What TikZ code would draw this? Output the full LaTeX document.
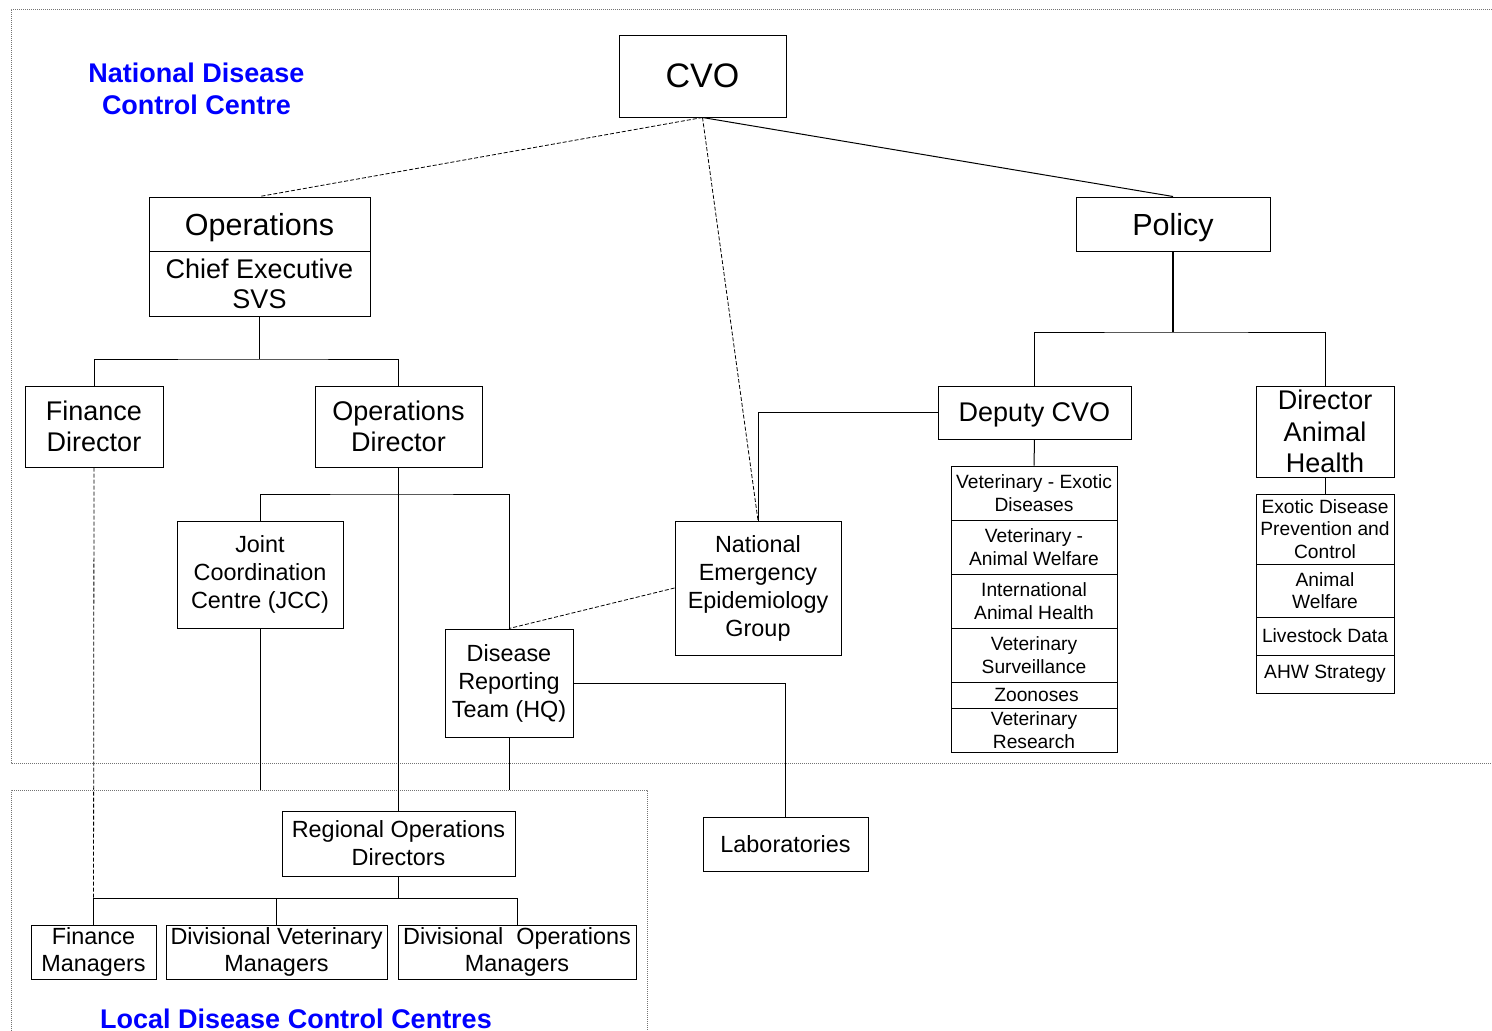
\documentclass[tikz,border=0pt]{standalone}
\usepackage{fontspec}
\setmainfont{Liberation Sans}
\newcommand\fsXL{\fontsize{34}{40}\selectfont}
\newcommand\fsL{\fontsize{30.5}{36}\selectfont}
\newcommand\fsM{\fontsize{27}{31.5}\selectfont}
\newcommand\fsMc{\fontsize{27}{30}\selectfont}
\newcommand\fsS{\fontsize{23.4}{28}\selectfont}
\newcommand\fsSb{\fontsize{23.4}{27}\selectfont}
\newcommand\fsXS{\fontsize{19.2}{22.5}\selectfont}
\newcommand\fsT{\fontsize{27}{32}\selectfont\bfseries}
\begin{document}
\begin{tikzpicture}[x=1pt,y=-1pt,
  box/.style={draw=black, line width=1pt, inner sep=0pt, align=center, fill=white},
  conn/.style={line width=1pt},
  stem/.style={line width=1.8pt},
  dsh/.style={line width=0.8pt, dash pattern=on 4pt off 2pt},
  border/.style={line width=1pt, draw=black!55, dash pattern=on 1pt off 1pt},
  title/.style={text=blue, align=center, inner sep=0pt, font=\fsT}]
\useasboundingbox (0,0) rectangle (1492,1031);
% region borders
\draw[border] (1492,9) -- (11,9) -- (11,763) -- (1492,763);
\draw[border] (11,1031) -- (11,790) -- (647,790) -- (647,1031);
\coordinate (ltop) at (11,790);
% titles
\node[title] (ndcc) at (196.5,89) {National Disease\\Control Centre};
\node[title, anchor=base] (ldcc) at (296,1028) {Local Disease Control Centres};
% top level
\node[box, minimum width=167, minimum height=82, font=\fsXL] (cvo) at (702.5,76) {CVO};
\node[box, minimum width=221, minimum height=54, font=\fsL, text depth=0pt] (opsT) at (259.5,224) {Operations};
\node[box, minimum width=221, minimum height=65, font=\fsMc] (opsB) at (259.5,283.5) {Chief Executive\\SVS};
\node[box, minimum width=194, minimum height=54, font=\fsL, text depth=0pt] (policy) at (1173,224) {Policy};
% directors
\node[box, minimum width=138, minimum height=81, font=\fsM] (fd) at (94,426.5) {Finance\\Director};
\node[box, minimum width=167, minimum height=81, font=\fsM] (od) at (398.5,426.5) {Operations\\Director};
\node[box, minimum width=193, minimum height=53, font=\fsM, text depth=0pt] (dcvo) at (1034.5,412.5) {Deputy CVO};
\node[box, minimum width=138, minimum height=91, font=\fsM] (dah) at (1325,431.5) {Director\\Animal\\Health};
% middle
\node[box, minimum width=166, minimum height=107, font=\fsS] (jcc) at (260,574.5) {Joint\\Coordination\\Centre (JCC)};
\node[box, minimum width=128, minimum height=108, font=\fsS] (drt) at (509,683) {Disease\\Reporting\\Team (HQ)};
\node[box, minimum width=166, minimum height=134, font=\fsS] (neeg) at (758,588) {National\\Emergency\\Epidemiology\\Group};
\node[box, minimum width=165, minimum height=54, font=\fsS] (lab) at (785.5,844) {Laboratories};
% deputy CVO list
\node[box, minimum width=166, minimum height=54, font=\fsXS] (v1) at (1034,493) {Veterinary - Exotic\\Diseases};
\node[box, minimum width=166, minimum height=54, font=\fsXS] (v2) at (1034,547) {Veterinary -\\Animal Welfare};
\node[box, minimum width=166, minimum height=54, font=\fsXS] (v3) at (1034,601) {International\\Animal Health};
\node[box, minimum width=166, minimum height=54, font=\fsXS] (v4) at (1034,655) {Veterinary\\Surveillance};
\node[box, minimum width=166, minimum height=26, font=\fsXS] (v5) at (1034,695) {\hspace*{5pt}Zoonoses};
\node[box, minimum width=166, minimum height=44, font=\fsXS] (v6) at (1034,730) {Veterinary\\Research};
% director animal health list
\node[box, minimum width=138, minimum height=70, font=\fsXS] (a1) at (1325,529) {Exotic Disease\\Prevention and\\Control};
\node[box, minimum width=138, minimum height=53, font=\fsXS] (a2) at (1325,590.5) {Animal\\Welfare};
\node[box, minimum width=138, minimum height=38, font=\fsXS] (a3) at (1325,636) {Livestock Data};
\node[box, minimum width=138, minimum height=38, font=\fsXS] (a4) at (1325,674) {AHW Strategy};
% local
\node[box, minimum width=233, minimum height=65, font=\fsS] (rod) at (398.5,843.5) {Regional Operations\\Directors};
\node[box, minimum width=125, minimum height=54, font=\fsSb] (fm) at (93.5,952) {Finance\\Managers};
\node[box, minimum width=221, minimum height=54, font=\fsSb] (dvm) at (276.5,952) {Divisional Veterinary\\Managers};
\node[box, minimum width=238, minimum height=54, font=\fsSb] (dom) at (517,952) {Divisional\ \ Operations\\Managers};
% junctions
\coordinate (j1) at (259.5,359);
\coordinate (j2) at (398.5,494);
\coordinate (j3) at (1173,332);
\coordinate (j4) at (398.5,898);
% connectors
\draw[dsh] (cvo.south) -- (opsT.north);
\draw[conn] (cvo.south) -- (policy.north);
\draw[dsh] (cvo.south) -- (neeg.north);
\draw[stem] (opsB.south) -- (j1);
\draw[conn] (fd.north) |- (j1) -| (od.north);
\draw[stem] (policy.south) -- (j3);
\draw[conn] (dcvo.north) |- (j3) -| (dah.north);
\draw[conn] (od.south) -- (rod.north);
\draw[conn] (jcc.north) |- (j2) -| (drt.north);
\draw[conn] (jcc.south) -- (jcc.south |- ltop);
\draw[conn] (drt.south) -- (drt.south |- ltop);
\draw[conn] (drt.east) -| (lab.north);
\draw[conn] (dcvo.west) -| (neeg.north);
\draw[dsh] (neeg.west) -- (drt.north);
\draw[conn] (dcvo.south) -- (v1.north);
\draw[conn] (dah.south) -- (a1.north);
\draw[dsh] (fd.south) -- (fm.north);
\draw[conn] (rod.south) -- (j4);
\draw[conn] (fm.north) |- (j4) -| (dom.north);
\draw[conn] (dvm.north) -- (dvm.north |- j4);
\end{tikzpicture}
\end{document}
